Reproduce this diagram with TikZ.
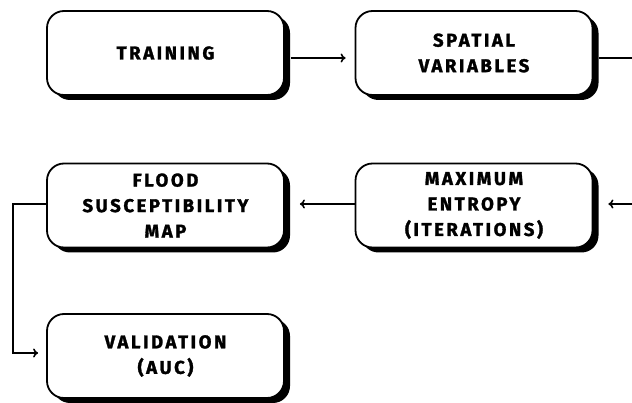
\documentclass[tikz,border=0pt]{standalone}
\usepackage{fontspec}
\setsansfont[LetterSpace=14, BoldFeatures={FakeBold=1.6}]{Fira Sans}
\usepackage{tikz}
\usetikzlibrary{arrows.meta, shadows}

\begin{document}
\begin{tikzpicture}[x=1pt, y=1pt,
    stage/.style={draw=black, line width=1.8pt, fill=white, rounded corners=17pt,
        minimum width=237pt, minimum height=84pt, inner sep=0pt, align=center,
        font=\sffamily\bfseries\fontsize{18.5}{25.5}\selectfont,
        drop shadow={shadow xshift=6pt, shadow yshift=-5pt, fill=black, opacity=1}},
    link/.style={line width=1.6pt, -{To[length=5pt, width=9pt]}, shorten >=9pt}]
    \useasboundingbox (0,0) rectangle (632,402);
    \node[stage] (train) at (165.5,349) {TRAINING};
    \node[stage] (spatial) at (474,349) {SPATIAL\\VARIABLES};
    \node[stage] (flood) at (165.5,196.5) {FLOOD\\SUSCEPTIBILITY\\MAP};
    \node[stage] (maxent) at (474,196.5) {MAXIMUM\\ENTROPY\\(ITERATIONS)};
    \node[stage] (valid) at (165.5,46) {VALIDATION\\(AUC)};
    \coordinate (edgeA) at (632,344);
    \coordinate (edgeB) at (632,198);
    \draw[link] ([xshift=6pt, yshift=-5pt]train.east) -- ([yshift=-5pt]spatial.west);
    \draw[line width=1.6pt] ([xshift=6pt, yshift=-5pt]spatial.east) -- (edgeA);
    \draw[link] (edgeB) -- ([xshift=6pt, yshift=1.5pt]maxent.east);
    \draw[link] ([yshift=1.5pt]maxent.west) -- ([xshift=6pt, yshift=1.5pt]flood.east);
    \draw[link, shorten >=8pt] ([yshift=1.5pt]flood.west) -- ++(-33,0) |- ([yshift=3pt]valid.west);
\end{tikzpicture}
\end{document}
